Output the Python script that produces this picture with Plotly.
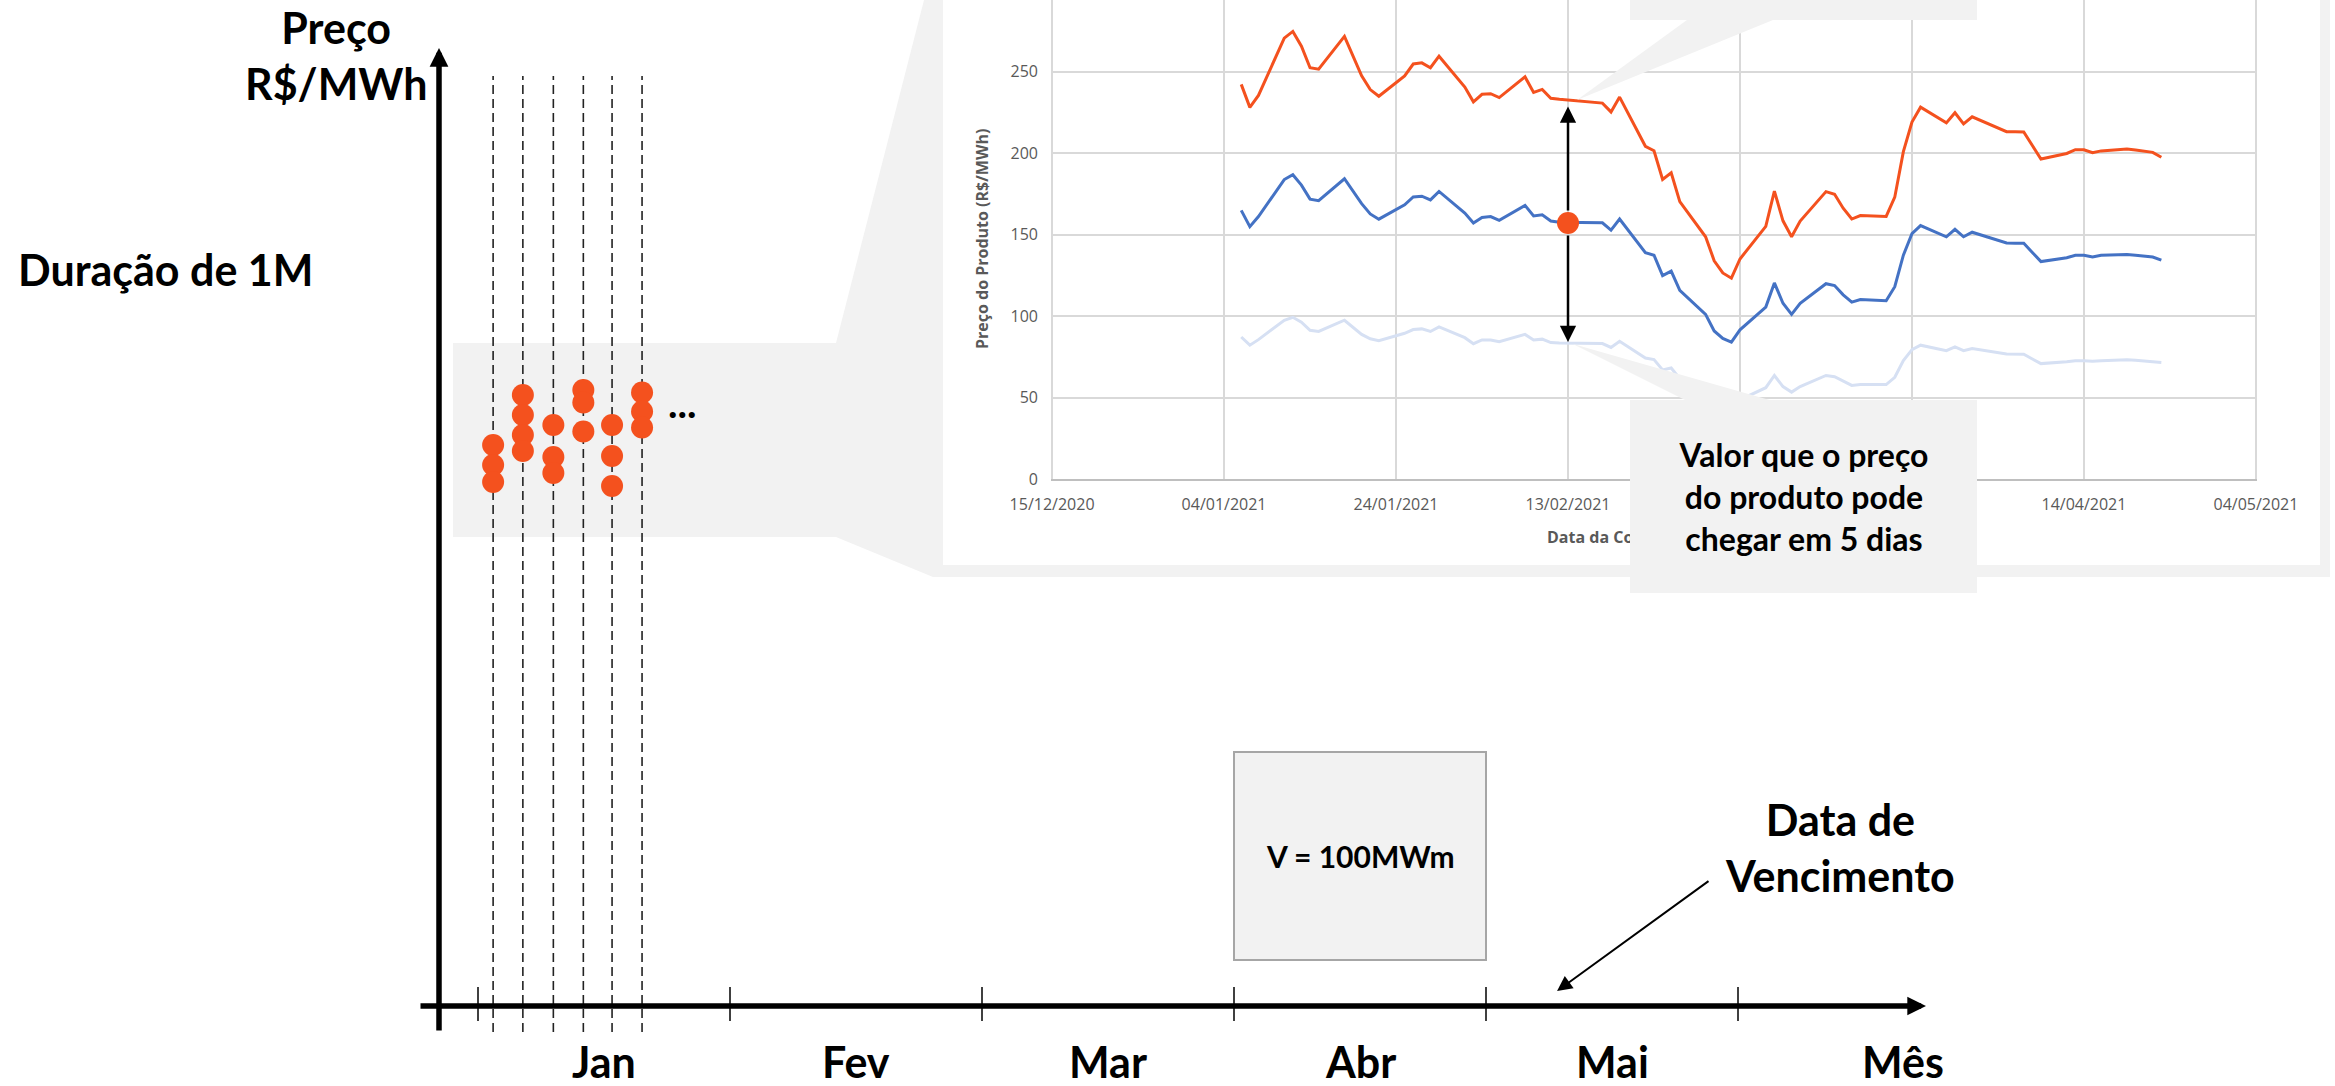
import plotly.graph_objects as go

W, H = 2335, 1086

# ---------------- inset chart: daily quotes of the 1M product ----------------
quote_dates = [
    "2021-01-06", "2021-01-07", "2021-01-08", "2021-01-11", "2021-01-12", "2021-01-13",
    "2021-01-14", "2021-01-15", "2021-01-18", "2021-01-19", "2021-01-20", "2021-01-21",
    "2021-01-22", "2021-01-25", "2021-01-26", "2021-01-27", "2021-01-28", "2021-01-29",
    "2021-02-01", "2021-02-02", "2021-02-03", "2021-02-04", "2021-02-05", "2021-02-08",
    "2021-02-09", "2021-02-10", "2021-02-11", "2021-02-12", "2021-02-17", "2021-02-18",
    "2021-02-19", "2021-02-22", "2021-02-23", "2021-02-24", "2021-02-25", "2021-02-26",
    "2021-03-01", "2021-03-02", "2021-03-03", "2021-03-04", "2021-03-05", "2021-03-08",
    "2021-03-09", "2021-03-10", "2021-03-11", "2021-03-12", "2021-03-15", "2021-03-16",
    "2021-03-17", "2021-03-18", "2021-03-19", "2021-03-22", "2021-03-23", "2021-03-24",
    "2021-03-25", "2021-03-26", "2021-03-29", "2021-03-30", "2021-03-31",
    "2021-04-01", "2021-04-05", "2021-04-06", "2021-04-07", "2021-04-08", "2021-04-09",
    "2021-04-12", "2021-04-13", "2021-04-14", "2021-04-15", "2021-04-16", "2021-04-19",
    "2021-04-20", "2021-04-22", "2021-04-23",
]

# upper bound of the price in 5 days (orange)
upper_5d = [
    242.1, 228.0, 235.3, 270.5, 274.6, 265.5, 252.3, 251.4, 271.6, 259.5, 247.3, 238.9,
    234.8, 247.3, 254.6, 255.3, 252.3, 259.4,
    240.5, 231.4, 236.0, 236.4, 234.0, 246.7, 237.2, 239.0, 233.6, 233.0, 230.6, 225.2,
    234.3, 204.1, 201.4, 183.8, 187.9, 170.2,
    148.6, 133.9, 126.4, 123.2, 135.0, 155.0, 176.6, 158.4, 148.6, 158.2, 176.3, 174.7,
    166.1, 159.5, 161.6, 161.1, 172.9, 200.8, 219.0, 228.1, 218.5, 224.7, 217.9,
    222.2, 213.1, 213.0, 212.9, 204.6, 196.3, 199.7, 202.0, 202.0, 200.2, 201.3, 202.4,
    201.8, 200.4, 197.4,
]

# quoted product price (blue)
product_price = [
    164.8, 154.8, 161.0, 183.7, 186.7, 180.3, 171.7, 170.7, 184.2, 176.5, 168.9, 162.6,
    159.4, 168.2, 173.0, 173.5, 171.2, 176.4,
    163.2, 157.1, 160.5, 161.0, 158.7, 167.8, 161.4, 162.1, 158.3, 157.5, 157.2, 152.7,
    159.5, 138.9, 137.3, 124.8, 127.5, 115.7,
    101.0, 90.8, 86.2, 84.0, 91.5, 105.5, 120.3, 107.8, 101.0, 107.8, 119.8, 118.7,
    113.0, 108.5, 110.1, 109.4, 118.0, 137.3, 150.5, 155.5, 148.6, 153.2, 148.6,
    151.4, 144.8, 144.7, 144.6, 139.0, 133.4, 135.7, 137.3, 137.3, 136.2, 137.3, 137.8,
    137.3, 136.2, 134.3,
]

# lower bound of the price in 5 days (light blue)
lower_5d = [
    87.1, 82.1, 85.5, 97.4, 99.2, 96.2, 91.2, 90.5, 97.4, 93.0, 88.7, 86.0,
    84.9, 89.4, 91.7, 92.1, 90.5, 93.3,
    86.7, 83.0, 85.3, 85.3, 84.2, 88.7, 85.3, 85.8, 83.7, 83.5, 83.1, 80.7,
    84.5, 74.2, 73.3, 66.9, 68.1, 61.5,
    53.6, 48.2, 45.8, 44.6, 48.6, 56.0, 63.5, 56.7, 53.3, 56.7, 63.5, 62.8,
    60.1, 57.4, 57.9, 57.9, 62.4, 72.6, 79.4, 82.1, 78.7, 81.0, 78.7,
    80.1, 76.7, 76.6, 76.5, 73.6, 70.8, 71.9, 72.6, 72.6, 72.2, 72.6, 73.1,
    72.8, 72.2, 71.5,
]

# highlighted quote and its 5-day range
focus_date = "2021-02-13"
focus_price = 157.0
focus_upper = 228.5
focus_lower = 84.0

# ---------------- schematic: contract months and quotes ----------------
month_labels = ["Jan", "Fev", "Mar", "Abr", "Mai"]
month_starts = [0, 1, 2, 3, 4, 5]
quote_positions = [0.06, 0.178, 0.299, 0.418, 0.532, 0.651]   # fraction of January
quote_prices = [
    [280.5, 270.5, 262.0],
    [305.5, 295.5, 285.5, 277.5],
    [290.5, 274.5, 266.5],
    [308.0, 301.75, 287.25],
    [290.5, 275.0, 260.0],
    [306.75, 297.25, 289.25],
]
contract_month = 3          # month index holding the "V = 100MWm" block
maturity_pointer = 4.282    # position on the month axis the maturity arrow points to

# ---------------- scales of the schematic ----------------
X0_PX, MONTH_PX = 478, 252      # pixel of month 0 and pixels per month
Y0_PX, UNIT_PX = 1006, 2        # pixel of price 0 and pixels per price unit


def mx(p):
    return (p - X0_PX) / MONTH_PX


def uy(p):
    return (Y0_PX - p) / UNIT_PX


def px(p):
    return p / W


def py(p):
    return 1 - p / H


ORANGE = "#F4511E"
BLUE = "#4472C4"
LIGHT = "#D6E0F3"
PANEL = "#F2F2F2"
BIG = dict(family="Lato", size=43, color="black")
CENTER = dict(xanchor="center", yanchor="middle")

fig = go.Figure()

# dashed verticals at each quote date
dash_x, dash_y = [], []
for p in quote_positions:
    dash_x += [p, p, None]
    dash_y += [uy(1032), uy(76), None]
fig.add_trace(go.Scatter(x=dash_x, y=dash_y, mode="lines", xaxis="x", yaxis="y",
                         line=dict(color="#222222", width=1.6, dash="9px,5px"),
                         hoverinfo="skip"))

# quotes observed on each date
dot_x, dot_y = [], []
for p, prices in zip(quote_positions, quote_prices):
    for v in prices:
        dot_x.append(p)
        dot_y.append(v)
fig.add_trace(go.Scatter(x=dot_x, y=dot_y, mode="markers", xaxis="x", yaxis="y",
                         marker=dict(size=22, color=ORANGE, line=dict(width=0)),
                         hoverinfo="skip"))

# inset series
for vals, col in [(lower_5d, LIGHT), (product_price, BLUE), (upper_5d, ORANGE)]:
    fig.add_trace(go.Scatter(x=quote_dates, y=vals, mode="lines", xaxis="x2", yaxis="y2",
                             line=dict(color=col, width=3), hoverinfo="skip"))
fig.add_trace(go.Scatter(x=[focus_date], y=[focus_price], mode="markers",
                         xaxis="x2", yaxis="y2",
                         marker=dict(size=22, color=ORANGE, line=dict(width=0)),
                         hoverinfo="skip"))

shapes = []
# zoom lens around the quotes and the inset frame
shapes.append(dict(type="rect", xref="paper", yref="paper", layer="below",
                   x0=px(453), x1=px(836), y0=py(537), y1=py(343),
                   fillcolor=PANEL, line=dict(width=0)))
shapes.append(dict(type="path", xref="paper", yref="paper", layer="below",
                   path=f"M{px(836)},{py(343)} L{px(933)},{py(-35)} L{px(933)},{py(577)} "
                        f"L{px(836)},{py(537)} Z",
                   fillcolor=PANEL, line=dict(width=0)))
shapes.append(dict(type="rect", xref="paper", yref="paper", layer="below",
                   x0=px(933), x1=px(2330), y0=py(577), y1=py(-60),
                   fillcolor=PANEL, line=dict(width=0)))
shapes.append(dict(type="rect", xref="paper", yref="paper", layer="below",
                   x0=px(943), x1=px(2320), y0=py(565), y1=py(-60),
                   fillcolor="white", line=dict(width=0)))

# callout pointers inside the inset
shapes.append(dict(type="rect", xref="paper", yref="paper", layer="above",
                   x0=px(1630), x1=px(1977), y0=py(20), y1=py(-60),
                   fillcolor=PANEL, line=dict(width=0)))
shapes.append(dict(type="path", xref="paper", yref="paper", layer="above",
                   path=f"M{px(1687)},{py(20)} L{px(1773)},{py(20)} L{px(1577)},{py(100)} Z",
                   fillcolor=PANEL, line=dict(width=0)))
shapes.append(dict(type="path", xref="paper", yref="paper", layer="above",
                   path=f"M{px(1687)},{py(401)} L{px(1773)},{py(401)} L{px(1573)},{py(344)} Z",
                   fillcolor=PANEL, line=dict(width=0)))

# month boundary ticks
for m in month_starts:
    shapes.append(dict(type="line", xref="x", yref="y", x0=m, x1=m,
                       y0=uy(1021), y1=uy(987), line=dict(color="black", width=1.5)))

# contracted volume block
shapes.append(dict(type="rect", xref="x", yref="y",
                   x0=month_starts[contract_month], x1=month_starts[contract_month + 1],
                   y0=uy(960), y1=uy(752), fillcolor=PANEL,
                   line=dict(color="#A6A6A6", width=2)))

ann = []
ann.append(dict(xref="paper", yref="paper", x=px(336), y=py(56), showarrow=False,
                text="<b>Preço<br>R$/MWh</b>", font=BIG, align="center", **CENTER))
ann.append(dict(xref="paper", yref="paper", x=px(165), y=py(269), showarrow=False,
                text="<b>Duração de 1M</b>", font=BIG, **CENTER))
for i, lab in enumerate(month_labels):
    ann.append(dict(xref="x", yref="y", x=month_starts[i] + 0.5, y=uy(1061),
                    showarrow=False, text=f"<b>{lab}</b>", font=BIG, **CENTER))
ann.append(dict(xref="x", yref="y", x=mx(1903), y=uy(1061), showarrow=False,
                text="<b>Mês</b>", font=BIG, **CENTER))
ann.append(dict(xref="paper", yref="paper", x=px(1840), y=py(847), showarrow=False,
                text="<b>Data de<br>Vencimento</b>", font=BIG, align="center", **CENTER))
ann.append(dict(xref="x", yref="y", x=(quote_positions[-1] + 0.16), y=uy(403),
                showarrow=False, text="<b>...</b>",
                font=dict(family="Lato", size=40, color="black"), **CENTER))
ann.append(dict(xref="x", yref="y", x=contract_month + 0.5, y=uy(856), showarrow=False,
                text="<b>V = 100MWm</b>", font=dict(family="Lato", size=30, color="black"),
                **CENTER))

# axis arrows of the schematic
ann.append(dict(xref="x", yref="y", axref="x", ayref="y", x=mx(439), y=uy(48),
                ax=mx(439), ay=uy(1032), text="", showarrow=True, arrowhead=2,
                arrowwidth=5.5, arrowsize=0.68, arrowcolor="black"))
ann.append(dict(xref="x", yref="y", axref="x", ayref="y", x=mx(1926), y=0,
                ax=mx(419), ay=0, text="", showarrow=True, arrowhead=2,
                arrowwidth=5.5, arrowsize=0.68, arrowcolor="black"))
ann.append(dict(xref="x", yref="y", axref="x", ayref="y", x=maturity_pointer, y=uy(991),
                ax=mx(1710), ay=uy(880), text="", showarrow=True, arrowhead=2,
                arrowwidth=2, arrowsize=1.5, arrowcolor="black"))

# inset titles
ann.append(dict(xref="paper", yref="paper", x=px(982), y=py(239), showarrow=False,
                textangle=-90, text="<b>Preço do Produto (R$/MWh)</b>",
                font=dict(family="Open Sans", size=16, color="#595959"), **CENTER))
ann.append(dict(xref="paper", yref="paper", x=px(1545), y=py(537), xanchor="left",
                yanchor="middle", showarrow=False, text="<b>Data da Cotação do Produto</b>",
                font=dict(family="Open Sans", size=16, color="#595959")))

# 5-day range of the highlighted quote
for tip in (focus_upper, focus_lower):
    ann.append(dict(xref="x2", yref="y2", axref="x2", ayref="y2", x=focus_date, y=tip,
                    ax=focus_date, ay=focus_price, text="", showarrow=True, arrowhead=2,
                    arrowwidth=2.5, arrowsize=1.3, startstandoff=11, arrowcolor="black"))

# bottom callout box
ann.append(dict(xref="paper", yref="paper", x=px(1803.5), y=py(496.5), showarrow=False,
                width=347, height=193, bgcolor=PANEL, borderpad=0, borderwidth=0,
                align="center", valign="middle",
                text="<b>Valor que o preço<br>do produto pode<br>chegar em 5 dias</b>",
                font=dict(family="Lato", size=32, color="black"), **CENTER))

tickfont = dict(family="Open Sans", size=16, color="#595959")
fig.update_layout(
    template="none",
    width=W, height=H, autosize=False,
    margin=dict(l=0, r=0, t=0, b=0, pad=0, autoexpand=False),
    paper_bgcolor="white", plot_bgcolor="white", showlegend=False, hovermode=False,
    xaxis=dict(domain=[0, 1], range=[mx(0), mx(W)], visible=False, fixedrange=True,
               automargin=False),
    yaxis=dict(domain=[0, 1], range=[uy(H), uy(0)], visible=False, fixedrange=True,
               automargin=False),
    xaxis2=dict(domain=[px(1051), px(2257)], anchor="y2", type="date",
                range=["2020-12-14 21:00", "2021-05-04 03:00"],
                tick0="2020-12-15", dtick=20 * 86400000, tickformat="%d/%m/%Y",
                showgrid=True, gridcolor="#D9D9D9", gridwidth=2,
                showline=True, linecolor="#BFBFBF", linewidth=2, zeroline=False,
                ticks="", tickfont=tickfont, ticklabelstandoff=10, fixedrange=True,
                automargin=False),
    yaxis2=dict(domain=[py(479), 1], anchor="x2", range=[0, 479 / 1.63],
                tick0=0, dtick=50, showgrid=True, gridcolor="#D9D9D9", gridwidth=2,
                showline=False, zeroline=False, ticks="", tickfont=tickfont,
                ticklabelstandoff=12, fixedrange=True, automargin=False),
    shapes=shapes, annotations=ann,
)

fig.write_html("out.html", config={"displayModeBar": False, "staticPlot": True})
